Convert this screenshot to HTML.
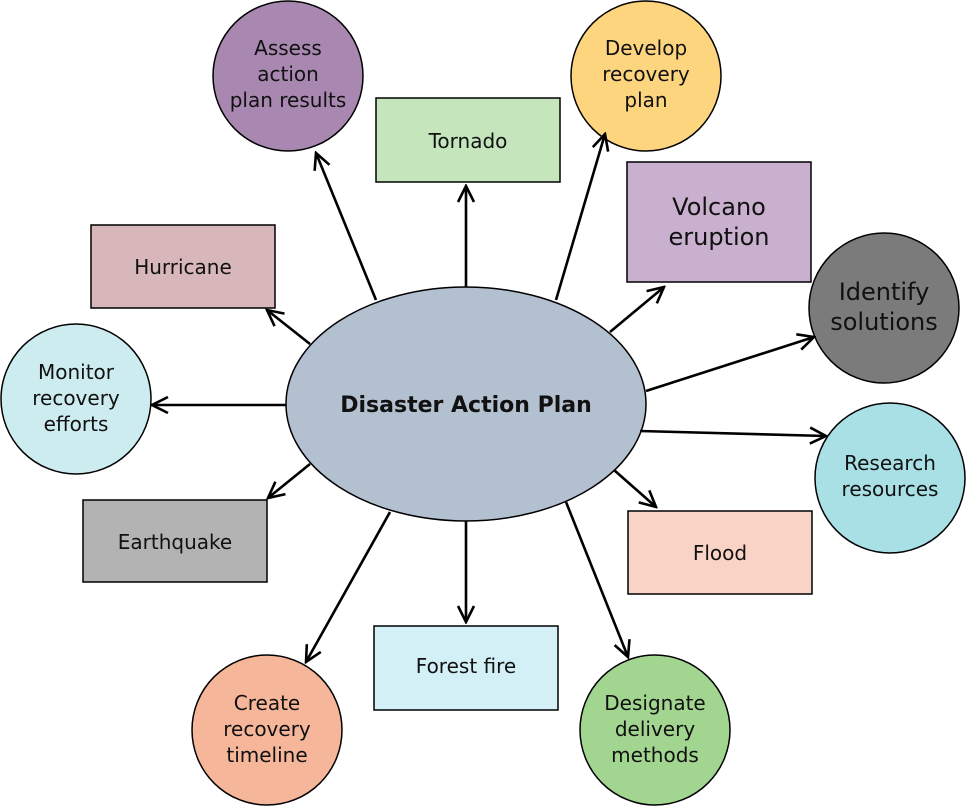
<!DOCTYPE html>
<html><head><meta charset="utf-8"><style>
html,body{margin:0;padding:0;background:#fff}
svg{display:block}
text{font-family:"DejaVu Sans","Liberation Sans",sans-serif;fill:#111;text-anchor:middle}
</style></head><body>
<svg width="966" height="807" viewBox="0 0 966 807" xmlns="http://www.w3.org/2000/svg">
<defs>
<marker id="a" viewBox="0 0 20 20" refX="18" refY="10" markerWidth="20" markerHeight="20" markerUnits="userSpaceOnUse" orient="auto">
<polyline points="2,2 18,10 2,18" fill="none" stroke="#000" stroke-width="2.6"/>
</marker>
</defs>
<g stroke="#000" stroke-width="1.5">
<circle cx="288" cy="76" r="75" fill="#a888b0"/>
<circle cx="646" cy="76" r="75" fill="#fdd57e"/>
<circle cx="884" cy="308" r="75" fill="#7b7b7b"/>
<circle cx="890" cy="478" r="75" fill="#a8e0e6"/>
<circle cx="655" cy="730" r="75" fill="#a2d590"/>
<circle cx="267" cy="730" r="75" fill="#f6b69a"/>
<circle cx="76" cy="399" r="75" fill="#cdecef"/>
<rect x="376" y="98" width="184" height="84" fill="#c5e5bd"/>
<rect x="627" y="162" width="184" height="120" fill="#cab0cf"/>
<rect x="91" y="225" width="184" height="83" fill="#d8b7ba"/>
<rect x="83" y="500" width="184" height="82" fill="#b3b3b3"/>
<rect x="628" y="511" width="184" height="83" fill="#f9d3c5"/>
<rect x="374" y="626" width="184" height="84" fill="#d2f0f6"/>
<ellipse cx="466" cy="404" rx="180" ry="117" fill="#b3c0cf"/>
</g>
<g stroke="#000" stroke-width="2.6" fill="none" marker-end="url(#a)">
<line x1="376" y1="300" x2="316" y2="153"/>
<line x1="466" y1="287" x2="466" y2="186"/>
<line x1="556" y1="300" x2="605" y2="134"/>
<line x1="610" y1="332" x2="664" y2="287"/>
<line x1="646" y1="391" x2="814" y2="337"/>
<line x1="640" y1="431" x2="826" y2="436"/>
<line x1="614" y1="470" x2="656" y2="507"/>
<line x1="566" y1="502" x2="628" y2="657"/>
<line x1="466" y1="521" x2="466" y2="622"/>
<line x1="390" y1="512" x2="306" y2="662"/>
<line x1="310" y1="464" x2="268" y2="498"/>
<line x1="286" y1="405" x2="152" y2="405"/>
<line x1="310" y1="344" x2="267" y2="310"/>
</g>
<g font-size="20">
<text x="288" y="55">Assess</text><text x="288" y="81">action</text><text x="288" y="107">plan results</text>
<text x="646" y="55">Develop</text><text x="646" y="81">recovery</text><text x="646" y="107">plan</text>
<text x="468" y="148">Tornado</text>
<text x="183" y="274">Hurricane</text>
<text x="76" y="379">Monitor</text><text x="76" y="405">recovery</text><text x="76" y="431">efforts</text>
<text x="890" y="470">Research</text><text x="890" y="496">resources</text>
<text x="175" y="549">Earthquake</text>
<text x="720" y="560">Flood</text>
<text x="466" y="673">Forest fire</text>
<text x="267" y="710">Create</text><text x="267" y="736">recovery</text><text x="267" y="762">timeline</text>
<text x="655" y="710">Designate</text><text x="655" y="736">delivery</text><text x="655" y="762">methods</text>
</g>
<g font-size="24">
<text x="719" y="215">Volcano</text><text x="719" y="245">eruption</text>
<text x="884" y="300">Identify</text><text x="884" y="330">solutions</text>
<text x="466" y="412" font-weight="bold" font-size="22">Disaster Action Plan</text>
</g>
</svg>
</body></html>
